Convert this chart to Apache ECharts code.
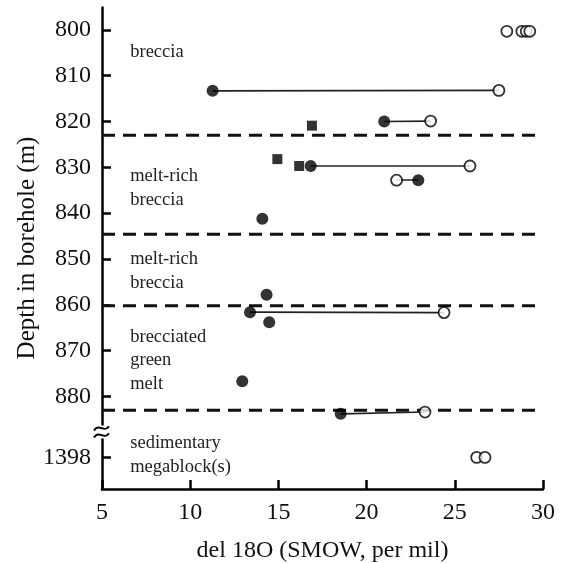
<!DOCTYPE html>
<html><head><meta charset="utf-8">
<script src="https://cdn.jsdelivr.net/npm/echarts@6/dist/echarts.min.js"></script>
<style>html,body{margin:0;padding:0;background:#fff}#c{width:561px;height:563px}</style>
</head><body><div id="c"></div>
<script>
// ---- data ----
const depthTicks = [800, 810, 820, 830, 840, 850, 860, 870, 880, 1398];
const xTicks = [5, 10, 15, 20, 25, 30];
const boundaries = [823.0, 844.6, 860.2, 883.0];
const filledCircles = [[14.09, 841.2], [14.33, 857.8], [14.48, 863.8], [12.95, 876.7]];
const filledSquares = [[16.9, 820.9], [14.94, 828.2], [16.18, 829.7]];
const openCircles = [[27.95, 800.3], [28.8, 800.3], [29.05, 800.3], [29.25, 800.3], [26.24, 1398], [26.71, 1398]];
const pairFilled = [[11.27, 813.3], [21.0, 820.0], [16.83, 829.7], [22.93, 832.8], [13.39, 861.6], [18.53, 883.8]];
const pairOpen = [[27.5, 813.2], [23.63, 819.9], [25.86, 829.7], [21.7, 832.8], [24.39, 861.7], [23.31, 883.4]];
const zoneLabels = ['breccia', 'melt-rich\nbreccia', 'melt-rich\nbreccia', 'brecciated\ngreen\nmelt', 'sedimentary\nmegablock(s)'];
const zoneLabelDepth = [804.8, 834.5, 852.7, 872.1, 1397.5];
const depthBreak = [886, 1394];

const FONT = '"Liberation Serif", "Times New Roman", serif';
const chart = echarts.init(document.getElementById('c'), null, {renderer: 'canvas'});

const series = [];
boundaries.forEach(d => {
  series.push({
    type: 'line', data: [[5, d], [29.8, d]], symbol: 'none', silent: true, z: 1,
    lineStyle: {color: '#111', width: 3, type: [13, 8]}
  });
});
series.push({
  type: 'lines', coordinateSystem: 'cartesian2d', z: 2, silent: true,
  lineStyle: {color: '#222', width: 1.6, opacity: 1},
  data: pairFilled.map((p, i) => ({coords: [p, pairOpen[i]]}))
});
series.push({
  type: 'scatter', symbol: 'circle', symbolSize: 12, z: 5,
  itemStyle: {color: '#000'}, data: filledCircles.concat(pairFilled)
});
series.push({
  type: 'scatter', symbol: 'rect', symbolSize: 10, z: 5,
  itemStyle: {color: '#000'}, data: filledSquares
});
series.push({
  type: 'scatter', symbol: 'circle', symbolSize: 11, z: 6,
  itemStyle: {color: '#fff', borderColor: '#000', borderWidth: 1.8}, data: openCircles.concat(pairOpen)
});

chart.setOption({
  animation: false,
  backgroundColor: '#fff',
  grid: {left: 102, right: 18, top: 7, bottom: 74, containLabel: false, outerBoundsMode: 'none'},
  xAxis: {
    type: 'value', min: 5, max: 30, interval: 5,
    name: 'del 18O (SMOW, per mil)', nameLocation: 'middle', nameGap: 50, nameMoveOverlap: false,
    nameTextStyle: {fontFamily: FONT, fontSize: 24, color: '#111'},
    axisLine: {show: true, lineStyle: {color: '#000', width: 2.5}},
    axisTick: {show: true, inside: true, length: 9, lineStyle: {color: '#000', width: 2.5}},
    axisLabel: {fontFamily: FONT, fontSize: 24, color: '#111', margin: 12,
      customValues: xTicks, formatter: v => String(v)},
    splitLine: {show: false}
  },
  yAxis: {
    type: 'value', inverse: true, min: 795, max: 1404.9,
    breaks: [{start: depthBreak[0], end: depthBreak[1], gap: 3.3}],
    breakArea: {show: false},
    name: 'Depth in borehole (m)', nameLocation: 'middle', nameGap: 62, nameMoveOverlap: false,
    nameTextStyle: {fontFamily: FONT, fontSize: 25, color: '#111'},
    axisLine: {show: true, lineStyle: {color: '#000', width: 2.5}},
    axisTick: {show: true, inside: true, length: 9, lineStyle: {color: '#000', width: 2.5},
      customValues: depthTicks},
    axisLabel: {fontFamily: FONT, fontSize: 24, color: '#111', margin: 11,
      customValues: depthTicks, formatter: v => String(v)},
    splitLine: {show: false}
  },
  series: series
});

function addGraphics() {
  const g = [];
  zoneLabels.forEach((t, i) => {
    const p = chart.convertToPixel({gridIndex: 0}, [6.6, zoneLabelDepth[i]]);
    g.push({type: 'text', x: p[0], y: p[1], z: 10,
      style: {text: t, font: '18.5px ' + FONT, fill: '#222', lineHeight: 23.5,
        align: 'left', verticalAlign: 'middle'}});
  });
  const x0 = chart.convertToPixel({gridIndex: 0}, [5, 850])[0];
  const yb = chart.convertToPixel({yAxisIndex: 0}, depthBreak[0]) + 8;
  g.push({type: 'rect', z: 20, shape: {x: x0 - 4, y: yb - 4, width: 8, height: 8}, style: {fill: '#fff'}});
  [-3.5, 3.5].forEach(dy => {
    const c = yb + dy;
    g.push({type: 'bezierCurve', z: 21,
      shape: {x1: x0 - 8, y1: c + 2, cpx1: x0 - 3, cpy1: c - 6, cpx2: x0 + 2, cpy2: c + 5, x2: x0 + 7, y2: c - 2},
      style: {stroke: '#000', lineWidth: 2, fill: null}});
  });
  chart.setOption({graphic: g});
}
addGraphics();
</script>
</body></html>
